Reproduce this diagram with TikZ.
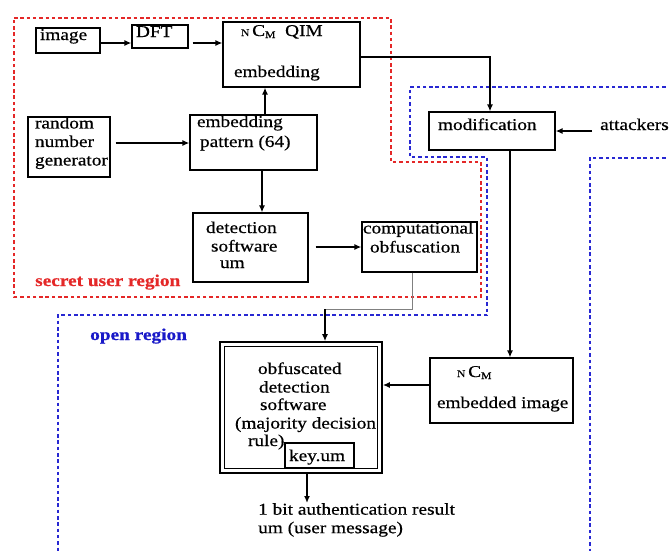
\documentclass[tikz,border=0pt]{standalone}
\usepackage{fontspec}
\setmainfont{Liberation Serif}[FakeStretch=1.17,FakeBold=0.6]
\usetikzlibrary{arrows.meta}
\definecolor{regred}{RGB}{228,40,40}
\definecolor{regblue}{RGB}{40,40,210}
\definecolor{txtblue}{RGB}{25,25,200}
\newcommand\fs{\fontsize{16.5}{18.5}\selectfont}
\newcommand\bx[4]{\parbox[c][#2][t]{#1}{\raggedright\rule{0pt}{#3}#4}}
\newcommand\ncm{{\fontsize{10}{10}\selectfont N}\,C{\fontsize{10}{10}\selectfont\raisebox{-2pt}{M}}}
\tikzset{
  box/.style={draw, line width=1.2pt, inner sep=0pt},
  arr/.style={line width=1.4pt, -{Latex[length=7pt,width=6pt]}},
  redreg/.style={regred, line width=2.3pt, dash pattern=on 3.5pt off 2.8pt},
  bluereg/.style={regblue, line width=2.3pt, dash pattern=on 3.5pt off 2.8pt},
  lbl/.style={inner sep=0pt}
}
\begin{document}
\begin{tikzpicture}[x=1pt,y=-1pt,font=\fs]
\useasboundingbox (0,0) rectangle (669,550);
% regions
\draw[redreg] (14,18) -- (391,18) -- (391,162) -- (481,162) -- (481,297) -- (14,297) -- cycle;
\draw[bluereg] (672,87) -- (410,87) -- (410,157) -- (487,157) -- (487,315) -- (58,315) -- (58,553);
\draw[bluereg] (672,158) -- (590,158) -- (590,553);
\node[lbl, anchor=base west, text=regred] (secret) at (35,286) {\bfseries secret user region};
\node[lbl, anchor=base west, text=txtblue] (open) at (90,340) {\bfseries open region};
% boxes
\node[box] (img) at (68,40.5) {\bx{64pt}{25pt}{12pt}{\hspace*{4pt}image}};
\node[box] (dft) at (160,36.5) {\bx{56pt}{23pt}{12pt}{\hspace*{4pt}DFT}};
\node[box] (qim) at (291.5,54.5) {\bx{137pt}{65pt}{14pt}{\hspace*{18pt}\ncm\ \ QIM\\[22.5pt]\hspace*{11pt}embedding}};
\node[box] (rng) at (69,147) {\bx{82pt}{60pt}{10pt}{\hspace*{7pt}random\\\hspace*{7pt}number\\\hspace*{7pt}generator}};
\node[box] (ep) at (253.5,142.5) {\bx{127pt}{55pt}{12pt}{\hspace*{7pt}embedding\\[1.5pt]\hspace*{10pt}pattern (64)}};
\node[box] (ds) at (250.5,247.5) {\bx{115pt}{69pt}{20pt}{\hspace*{13pt}detection\\\hspace*{18pt}software\\[-2pt]\hspace*{27pt}um}};
\node[box] (co) at (419.5,247) {\bx{115pt}{50pt}{11pt}{\hspace*{1pt}computational\\[0.5pt]\hspace*{8pt}obfuscation}};
\node[box] (mod) at (492,131) {\bx{126pt}{38pt}{18pt}{\hspace*{9pt}modification}};
\node[lbl, anchor=base west] (att) at (600,130) {attackers};
\node[box] (emb) at (501.5,390.5) {\bx{143pt}{65pt}{19pt}{\hspace*{27pt}\ncm\\[12.5pt]\hspace*{7pt}embedded image}};
\node[box, line width=1.6pt] (obf) at (301,407.5) {\bx{162pt}{131pt}{32pt}{\hspace*{38pt}obfuscated\\\hspace*{39pt}detection\\[-1pt]\hspace*{40pt}software\\\hspace*{15pt}(majority decision\\[-1pt]\hspace*{28pt}rule)}};
\draw[line width=1pt] ([shift={(5pt,-5pt)}]obf.north west) rectangle ([shift={(-5pt,5pt)}]obf.south east);
\node[box] (key) at (319.5,455.5) {\bx{69pt}{25pt}{18pt}{\hspace*{4pt}key.um}};
\node[lbl, anchor=north west, align=left] (res) at (258,503) {1 bit authentication result\\um (user message)};
% connectors
\coordinate (r1) at ([yshift=-2.5pt]img.east);
\draw[arr] (r1) -- (r1 -| dft.west);
\coordinate (r2) at ([xshift=4pt]r1 -| dft.east);
\draw[arr] (r2) -- (r2 -| qim.west);
\coordinate (r3) at ([xshift=5pt,yshift=-0.5pt]rng.east |- ep.west);
\draw[arr] (r3) -- (r3 -| ep.west);
\coordinate (r4) at ([xshift=11.5pt]ep.north);
\draw[arr] (r4) -- (r4 |- qim.south);
\coordinate (r5) at ([xshift=8.5pt]ep.south);
\draw[arr] (r5) -- (r5 |- ds.north);
\coordinate (r6) at ([xshift=7pt]ds.east |- co.west);
\draw[arr] (r6) -- (co.west);
\coordinate (cb) at (325,309);
\draw[line width=1pt, gray] ([xshift=-7.5pt]co.south) |- (cb);
\draw[arr] (cb) -- (cb |- obf.north);
\coordinate (r7) at ([yshift=-2.5pt]qim.east);
\draw[arr] (r7) -| ([xshift=-2pt]mod.north);
\coordinate (r8) at ([xshift=-8pt]att.west |- mod.east);
\draw[arr] (r8) -- (mod.east);
\coordinate (r9) at ([xshift=18pt]mod.south);
\draw[arr] (r9) -- (r9 |- emb.north);
\coordinate (r10) at ([yshift=5.5pt]emb.west);
\draw[arr] (r10) -- (r10 -| obf.east);
\coordinate (r11) at ([xshift=6pt]obf.south);
\draw[arr] (r11) -- (r11 |- res.north);
\end{tikzpicture}
\end{document}
